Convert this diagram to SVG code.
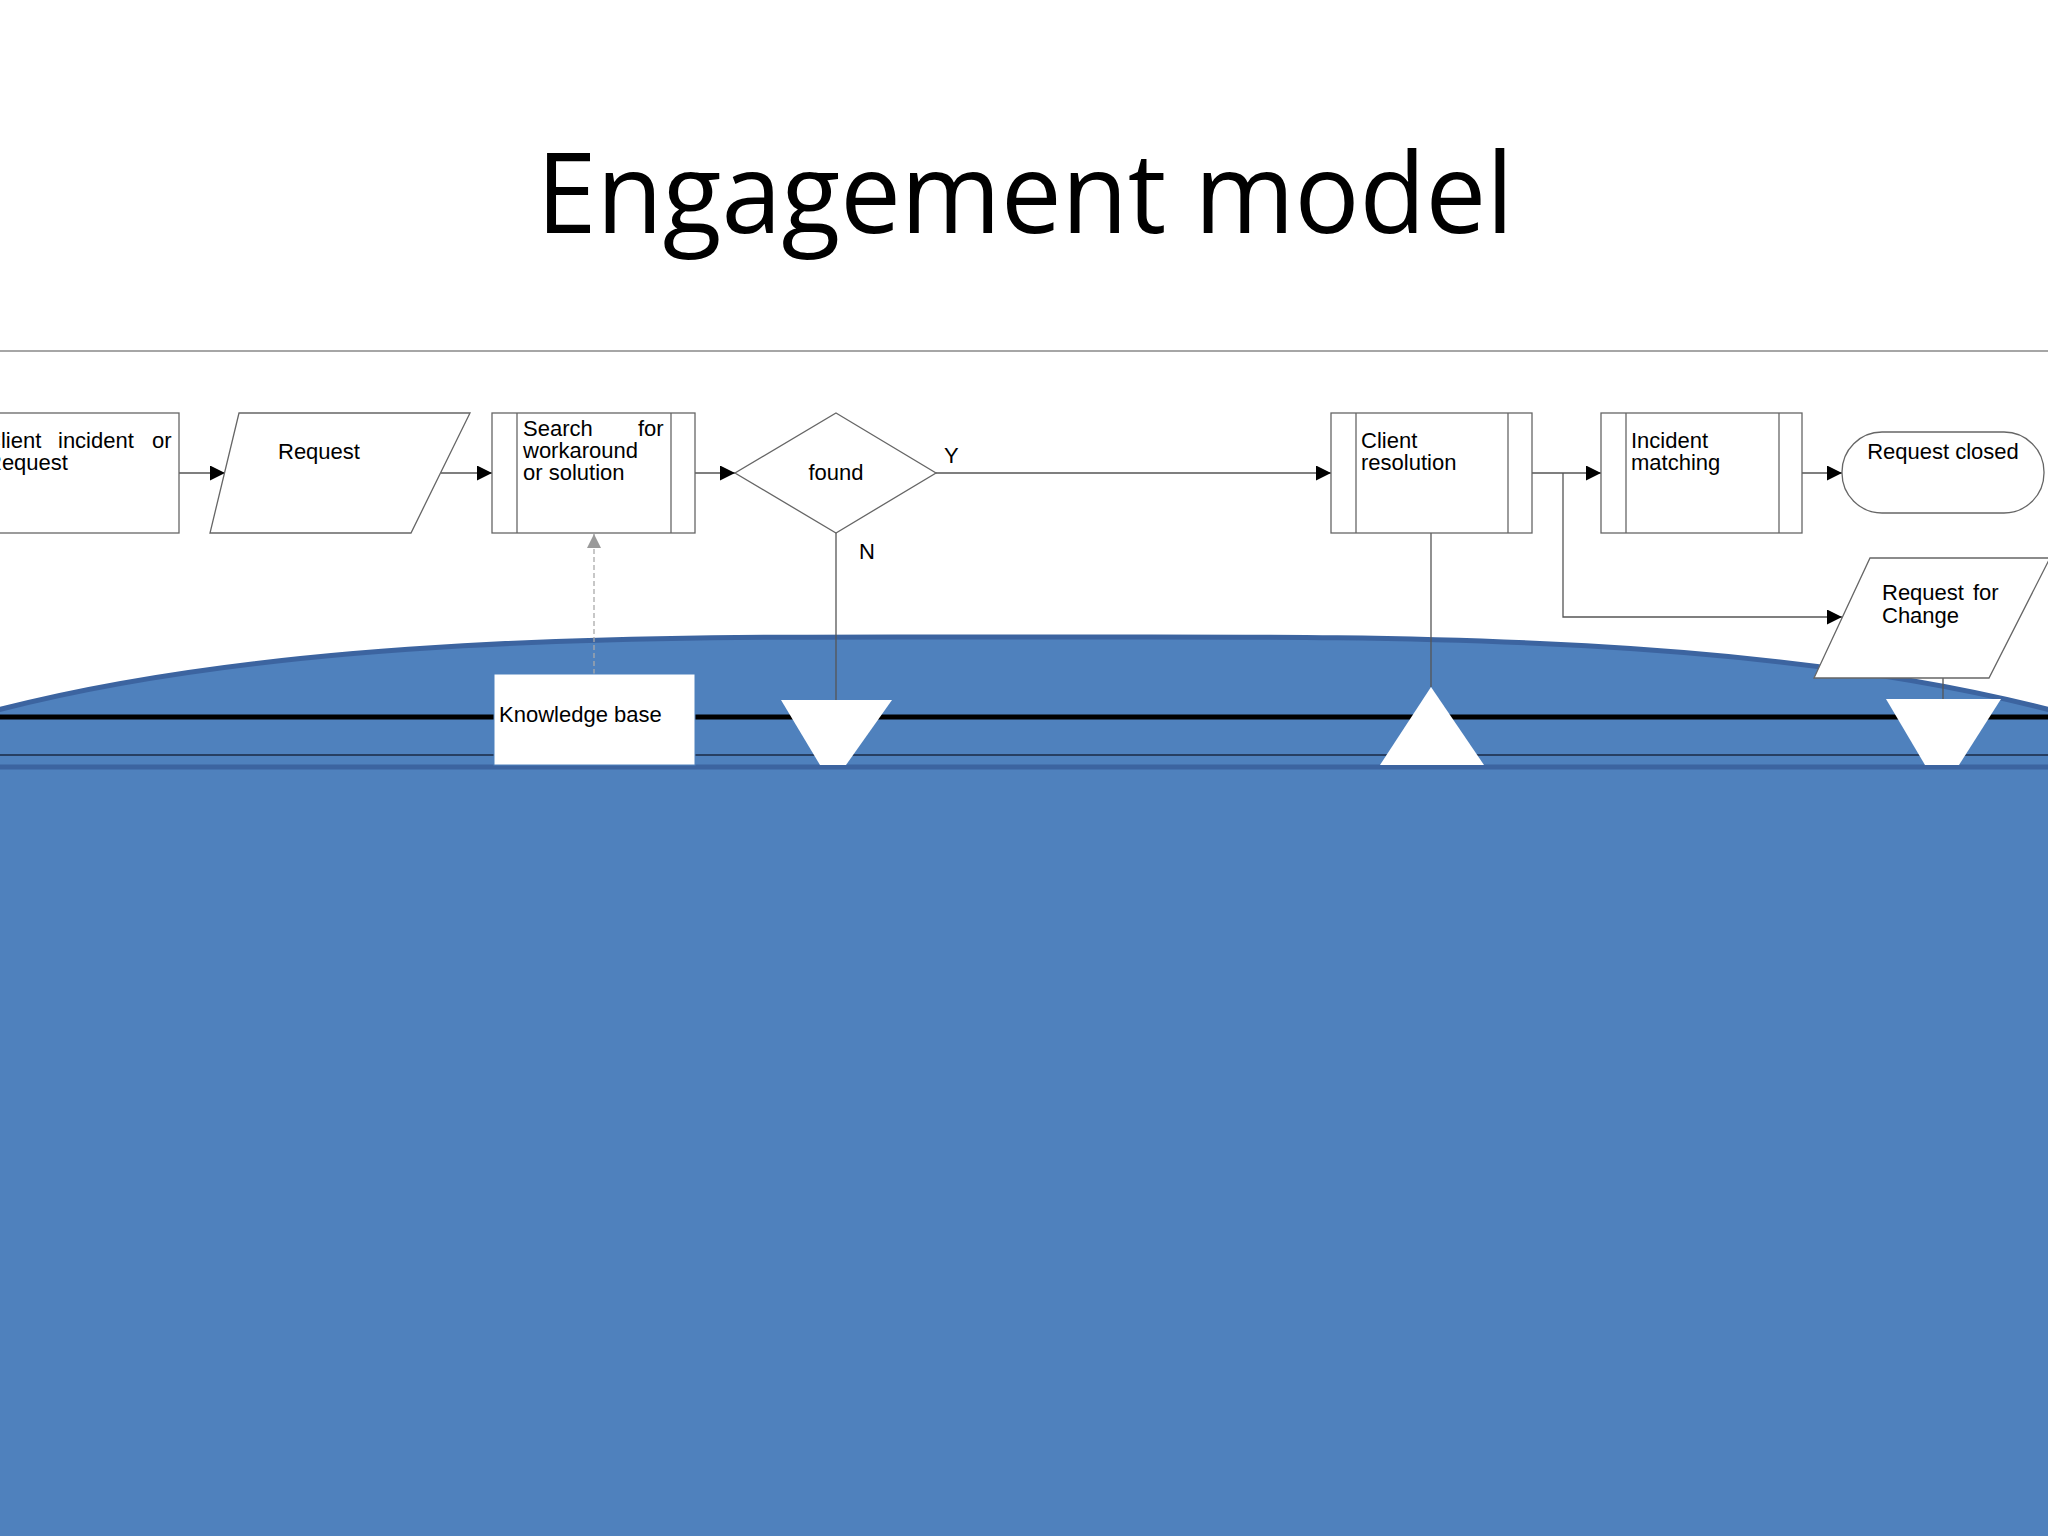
<svg xmlns="http://www.w3.org/2000/svg" width="2048" height="1536" viewBox="0 0 2048 1536">
<defs>
<marker id="ah" viewBox="0 0 10 10" refX="10" refY="5" markerWidth="15" markerHeight="15" markerUnits="userSpaceOnUse" orient="auto"><path d="M0,0 L10,5 L0,10 z" fill="#000"/></marker>
<marker id="ahg" viewBox="0 0 10 10" refX="10" refY="5" markerWidth="14" markerHeight="14" markerUnits="userSpaceOnUse" orient="auto"><path d="M0,0 L10,5 L0,10 z" fill="#999"/></marker>
<style>
.s{fill:#fff;stroke:#666;stroke-width:1.3}
.t{font-family:"Liberation Sans",Arial,sans-serif;font-size:22px;fill:#000}
.c{fill:none;stroke:#555;stroke-width:1.3}
</style>
</defs>
<rect width="2048" height="1536" fill="#fff"/>
<text x="1025" y="233" text-anchor="middle" font-family="'Open Sans','Noto Sans',sans-serif" font-size="112" textLength="977" lengthAdjust="spacingAndGlyphs">Engagement model</text>
<line x1="0" y1="351" x2="2048" y2="351" stroke="#888" stroke-width="1.5"/>
<g id="background">
<path d="M-10,712 C300,630 700,637 1024,637 C1350,637 1750,630 2058,712 L2058,1540 L-10,1540 Z" fill="#4F81BD" stroke="#3C64A0" stroke-width="5"/>
<line x1="0" y1="717" x2="2048" y2="717" stroke="#000" stroke-width="5"/>
<line x1="0" y1="755" x2="2048" y2="755" stroke="#1a2a44" stroke-width="1.5"/>
<line x1="0" y1="767" x2="2048" y2="767" stroke="#3C64A0" stroke-width="5"/>
</g>
<g id="connectors">
<line class="c" x1="179" y1="473" x2="225" y2="473" marker-end="url(#ah)"/>
<line class="c" x1="441" y1="473" x2="492" y2="473" marker-end="url(#ah)"/>
<line class="c" x1="695" y1="473" x2="735" y2="473" marker-end="url(#ah)"/>
<line class="c" x1="936" y1="473" x2="1331" y2="473" marker-end="url(#ah)"/>
<line class="c" x1="1532" y1="473" x2="1601" y2="473" marker-end="url(#ah)"/>
<polyline class="c" points="1563,473 1563,617 1842,617" marker-end="url(#ah)"/>
<line class="c" x1="1802" y1="473" x2="1842" y2="473" marker-end="url(#ah)"/>
<line x1="594" y1="674" x2="594" y2="534" stroke="#aaa" stroke-width="1.3" stroke-dasharray="5,3" marker-end="url(#ahg)"/>
<line class="c" x1="836" y1="533" x2="836" y2="700"/>
<line class="c" x1="1431" y1="533" x2="1431" y2="687"/>
<line class="c" x1="1943" y1="678" x2="1943" y2="699"/>
<text class="t" x="944" y="463">Y</text>
<text class="t" x="859" y="559">N</text>
</g>
<g id="client">
<rect class="s" x="-20" y="413" width="199" height="120"/>
<text class="t" y="448"><tspan x="-15">Client</tspan><tspan x="58">incident</tspan><tspan x="152">or</tspan></text>
<text class="t" x="-14" y="470">Request</text>
</g>
<g id="request">
<polygon class="s" points="239,413 470,413 411,533 210,533"/>
<text class="t" x="278" y="459">Request</text>
</g>
<g id="search">
<rect class="s" x="492" y="413" width="203" height="120"/>
<line class="s" x1="517" y1="413" x2="517" y2="533"/>
<line class="s" x1="671" y1="413" x2="671" y2="533"/>
<text class="t" y="436"><tspan x="523">Search</tspan><tspan x="638">for</tspan></text>
<text class="t" x="523" y="458">workaround</text>
<text class="t" x="523" y="480">or solution</text>
</g>
<g id="found">
<polygon class="s" points="836,413 936,473 836,533 735,473"/>
<text class="t" x="836" y="480" text-anchor="middle">found</text>
</g>
<g id="clientres">
<rect class="s" x="1331" y="413" width="201" height="120"/>
<line class="s" x1="1356" y1="413" x2="1356" y2="533"/>
<line class="s" x1="1508" y1="413" x2="1508" y2="533"/>
<text class="t" x="1361" y="448">Client</text>
<text class="t" x="1361" y="470">resolution</text>
</g>
<g id="incident">
<rect class="s" x="1601" y="413" width="201" height="120"/>
<line class="s" x1="1626" y1="413" x2="1626" y2="533"/>
<line class="s" x1="1779" y1="413" x2="1779" y2="533"/>
<text class="t" x="1631" y="448">Incident</text>
<text class="t" x="1631" y="470">matching</text>
</g>
<g id="closed">
<rect class="s" x="1842" y="432" width="202" height="81" rx="40" ry="40"/>
<text class="t" x="1943" y="459" text-anchor="middle">Request closed</text>
</g>
<g id="rfc">
<polygon class="s" points="1870,558 2050,558 1989,678 1814,678"/>
<text class="t" y="600"><tspan x="1882">Request</tspan><tspan x="1973">for</tspan></text>
<text class="t" x="1882" y="623">Change</text>
</g>
<g id="kb">
<rect x="494" y="674" width="201" height="91" fill="#fff" stroke="#4F81BD" stroke-width="1"/>
<text class="t" x="499" y="722">Knowledge base</text>
</g>
<g id="markers">
<polygon points="781,700 892,700 846,765 820,765" fill="#fff"/>
<polygon points="1431,687 1484,765 1380,765" fill="#fff"/>
<polygon points="1886,699 2001,699 1959,765 1925,765" fill="#fff"/>
</g>
</svg>
